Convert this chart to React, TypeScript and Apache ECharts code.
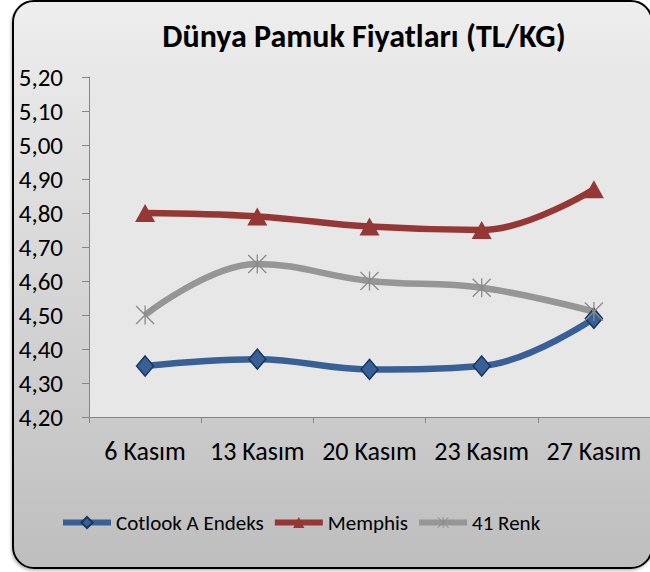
import React, { useEffect, useRef } from "react";
import * as echarts from "echarts";

const categories = ["6 Kasım", "13 Kasım", "20 Kasım", "23 Kasım", "27 Kasım"];
const cotlook = [4.35, 4.37, 4.34, 4.35, 4.49];
const memphis = [4.8, 4.79, 4.76, 4.75, 4.87];
const renk41 = [4.5, 4.65, 4.6, 4.58, 4.51];
const seriesNames = ["Cotlook A Endeks", "Memphis", "41 Renk"];
const titleText = "Dünya Pamuk Fiyatları (TL/KG)";

const FONT = 'Calibri, Carlito, "Open Sans", sans-serif';

const asterisk =
  "path://M9.3 0 L10.7 0 L10.7 20 L9.3 20 Z M0 1 L1 0 L20 19 L19 20 Z M19 0 L20 1 L1 20 L0 19 Z";

export default function App() {
  const ref = useRef<HTMLDivElement>(null);

  useEffect(() => {
    if (!ref.current) return;
    const chart = echarts.init(ref.current, undefined, { renderer: "svg" });
    chart.setOption({
      animation: false,
      backgroundColor: "transparent",
      textStyle: { fontFamily: FONT },
      graphic: [
        {
          type: "text",
          x: 364,
          y: 36,
          style: {
            text: titleText,
            fontFamily: FONT,
            fontSize: 32,
            fontWeight: "bold",
            fill: "#000",
            textAlign: "center",
            textVerticalAlign: "middle",
          },
        },
      ],
      grid: {
        left: 89,
        top: 77,
        right: -2,
        bottom: 155,
        show: true,
        backgroundColor: "#e7e7e7",
        borderWidth: 0,
      },
      legend: {
        left: 55,
        top: 507,
        itemWidth: 48,
        itemHeight: 14,
        itemGap: 8,
        lineStyle: { width: 6 },
        textStyle: { fontSize: 21, color: "#000", fontFamily: FONT },
        data: seriesNames,
      },
      xAxis: {
        type: "category",
        data: categories,
        boundaryGap: true,
        axisLine: { lineStyle: { color: "#868686", width: 1 } },
        axisTick: { show: true, length: 6, lineStyle: { color: "#868686" } },
        axisLabel: { color: "#000", fontSize: 26, margin: 21, interval: 0, fontFamily: FONT },
        splitLine: { show: false },
      },
      yAxis: {
        type: "value",
        min: 4.2,
        max: 5.2,
        interval: 0.1,
        axisLine: { show: true, lineStyle: { color: "#868686", width: 1 } },
        axisTick: { show: true, length: 7, lineStyle: { color: "#868686" } },
        axisLabel: {
          color: "#000",
          fontSize: 25,
          margin: 26,
          fontFamily: FONT,
          formatter: (v: number) => v.toFixed(2).replace(".", ","),
        },
        splitLine: { show: false },
      },
      series: [
        {
          name: seriesNames[0],
          type: "line",
          data: cotlook,
          smooth: 0.4,
          symbol: "diamond",
          symbolSize: [17, 20],
          lineStyle: { color: "#386096", width: 6.5 },
          itemStyle: { color: "#386096", borderColor: "#17375e", borderWidth: 1.5 },
        },
        {
          name: seriesNames[1],
          type: "line",
          data: memphis,
          smooth: 0.4,
          symbol: "triangle",
          symbolSize: [20, 18],
          lineStyle: { color: "#953735", width: 6.5 },
          itemStyle: { color: "#953735", borderColor: "#953735", borderWidth: 0 },
        },
        {
          name: seriesNames[2],
          type: "line",
          data: renk41,
          smooth: 0.4,
          symbol: asterisk,
          symbolSize: 19,
          lineStyle: { color: "#969696", width: 6.5 },
          itemStyle: { color: "#8c8c8c", borderWidth: 0 },
        },
      ],
    });
    return () => chart.dispose();
  }, []);

  return (
    <div style={{ position: "absolute", left: 0, top: 0, width: 650, height: 572, overflow: "hidden", background: "#fff" }}>
      <div
        style={{
          position: "absolute",
          left: 12,
          top: 0,
          width: 641,
          height: 569,
          boxSizing: "border-box",
          border: "2px solid #000",
          borderRadius: 22,
          background: "linear-gradient(#eeeeee, #bebebe)",
          boxShadow: "-1px 2px 3px rgba(0,0,0,0.25)",
        }}
      />
      <div ref={ref} style={{ position: "absolute", left: 0, top: 0, width: 650, height: 572 }} />
    </div>
  );
}
